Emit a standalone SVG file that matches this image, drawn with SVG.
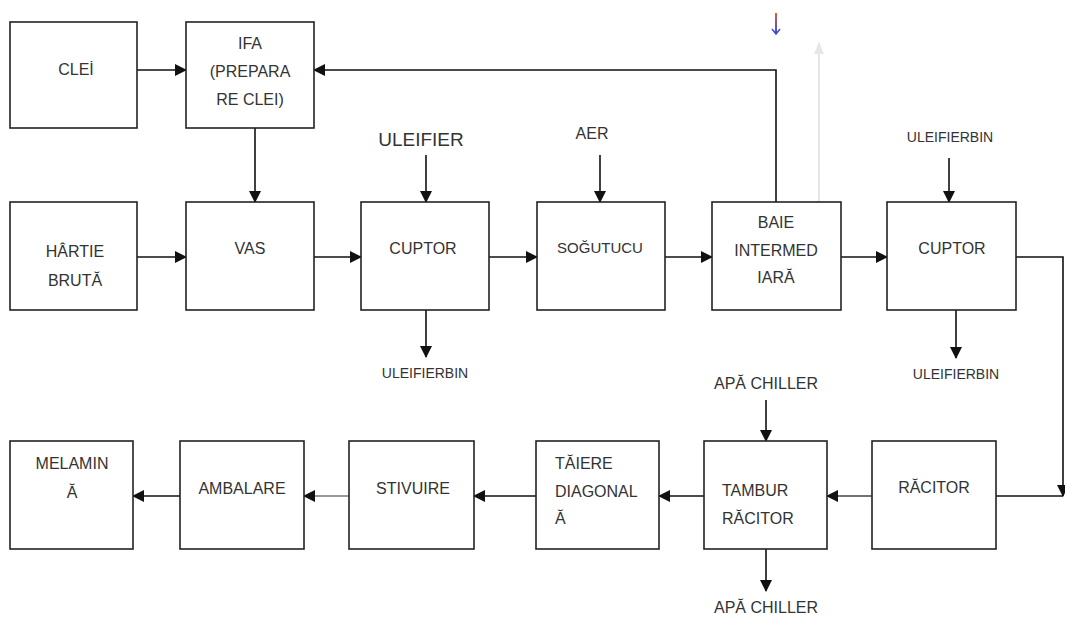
<svg xmlns="http://www.w3.org/2000/svg" width="1065" height="620" viewBox="0 0 1065 620">
<defs>
<style>
.box{fill:#fff;stroke:#222;stroke-width:1.6}
.t{font-family:"Liberation Sans",Arial,sans-serif;font-size:16px;fill:#333;text-anchor:middle}
.tl{font-family:"Liberation Sans",Arial,sans-serif;font-size:16px;fill:#333;text-anchor:start}
.s{font-family:"Liberation Sans",Arial,sans-serif;font-size:14px;fill:#333;text-anchor:middle}
.c{fill:none;stroke:#111;stroke-width:1.6}
</style>
<marker id="ah" markerUnits="userSpaceOnUse" markerWidth="12" markerHeight="12" viewBox="0 0 12 12" refX="11" refY="6" orient="auto"><path d="M0,0 L12,6 L0,12 Z" fill="#111"/></marker>
<marker id="ahg" markerUnits="userSpaceOnUse" markerWidth="12" markerHeight="12" viewBox="0 0 12 12" refX="11" refY="6" orient="auto"><path d="M0,1 L12,6 L0,11 Z" fill="#e6e6e6"/></marker>
<linearGradient id="rb" gradientUnits="userSpaceOnUse" x1="776" y1="13" x2="776" y2="34"><stop offset="0" stop-color="#e05a3a"/><stop offset="1" stop-color="#3a4ad0"/></linearGradient>
</defs>

<g id="connectors">
<line class="c" x1="137" y1="70" x2="186" y2="70" marker-end="url(#ah)"/>
<polyline class="c" points="776,202 776,70 314,70" marker-end="url(#ah)"/>
<line class="c" x1="255" y1="128" x2="255" y2="202" marker-end="url(#ah)"/>
<line class="c" x1="137" y1="257" x2="186" y2="257" marker-end="url(#ah)"/>
<line class="c" x1="314" y1="257" x2="361" y2="257" marker-end="url(#ah)"/>
<line class="c" x1="489" y1="257" x2="537" y2="257" marker-end="url(#ah)"/>
<line class="c" x1="665" y1="257" x2="712" y2="257" marker-end="url(#ah)"/>
<line class="c" x1="841" y1="257" x2="887" y2="257" marker-end="url(#ah)"/>
<line class="c" x1="426" y1="155" x2="426" y2="202" marker-end="url(#ah)"/>
<line class="c" x1="600" y1="155" x2="600" y2="202" marker-end="url(#ah)"/>
<line class="c" x1="949" y1="158" x2="949" y2="202" marker-end="url(#ah)"/>
<line class="c" x1="426" y1="310" x2="426" y2="357" marker-end="url(#ah)"/>
<line class="c" x1="956" y1="310" x2="956" y2="358" marker-end="url(#ah)"/>
<polyline class="c" points="1016,257 1063,257 1063,496" marker-end="url(#ah)"/>
<line class="c" x1="996" y1="496" x2="1063" y2="496"/>
<line class="c" x1="872" y1="496" x2="827" y2="496" style="stroke:#444" marker-end="url(#ah)"/>
<line class="c" x1="704" y1="496" x2="659" y2="496" marker-end="url(#ah)"/>
<line class="c" x1="536" y1="496" x2="474" y2="496" marker-end="url(#ah)"/>
<line class="c" x1="349" y1="496" x2="304" y2="496" style="stroke:#777" marker-end="url(#ah)"/>
<line class="c" x1="180" y1="496" x2="133" y2="496" marker-end="url(#ah)"/>
<line class="c" x1="766" y1="400" x2="766" y2="441" marker-end="url(#ah)"/>
<line class="c" x1="766" y1="549" x2="766" y2="591" marker-end="url(#ah)"/>
<line x1="819" y1="202" x2="819" y2="43" stroke="#e6e6e6" stroke-width="2" marker-end="url(#ahg)"/>
</g>

<g id="icon">
<rect x="775" y="13" width="2" height="20" fill="url(#rb)"/>
<polyline points="772,29 776,34 780,29" fill="none" stroke="#3a4ad0" stroke-width="1.5"/>
</g>

<g id="n-clei"><rect class="box" x="10" y="22" width="127" height="106"/><text class="t" x="76" y="75">CLEİ</text></g>
<g id="n-ifa"><rect class="box" x="186" y="22" width="128" height="106"/><text class="t" x="250" y="49">IFA</text><text class="t" x="250" y="77">(PREPARA</text><text class="t" x="250" y="105">RE CLEI)</text></g>
<g id="n-hartie"><rect class="box" x="10" y="202" width="127" height="108"/><text class="t" x="75" y="257">HÂRTIE</text><text class="t" x="75" y="286">BRUTĂ</text></g>
<g id="n-vas"><rect class="box" x="186" y="202" width="128" height="108"/><text class="t" x="250" y="254">VAS</text></g>
<g id="n-cuptor1"><rect class="box" x="361" y="202" width="128" height="108"/><text class="t" x="423" y="254">CUPTOR</text></g>
<g id="n-sogutucu"><rect class="box" x="537" y="202" width="128" height="108"/><text class="t" x="600" y="253" style="font-size:15px">SOĞUTUCU</text></g>
<g id="n-baie"><rect class="box" x="712" y="202" width="129" height="108"/><text class="t" x="776" y="228">BAIE</text><text class="t" x="776" y="256">INTERMED</text><text class="t" x="776" y="283">IARĂ</text></g>
<g id="n-cuptor2"><rect class="box" x="887" y="202" width="129" height="108"/><text class="t" x="952" y="254">CUPTOR</text></g>

<g id="n-melamina"><rect class="box" x="10" y="441" width="123" height="108"/><text class="t" x="72" y="469">MELAMIN</text><text class="t" x="72" y="498">Ă</text></g>
<g id="n-ambalare"><rect class="box" x="180" y="441" width="124" height="108"/><text class="t" x="242" y="494">AMBALARE</text></g>
<g id="n-stivuire"><rect class="box" x="349" y="441" width="125" height="108"/><text class="t" x="413" y="494">STIVUIRE</text></g>
<g id="n-taiere"><rect class="box" x="536" y="441" width="123" height="108"/><text class="tl" x="555" y="469">TĂIERE</text><text class="tl" x="555" y="497">DIAGONAL</text><text class="tl" x="555" y="524">Ă</text></g>
<g id="n-tambur"><rect class="box" x="704" y="441" width="123" height="108"/><text class="tl" x="722" y="496">TAMBUR</text><text class="tl" x="722" y="524">RĂCITOR</text></g>
<g id="n-racitor"><rect class="box" x="872" y="441" width="124" height="108"/><text class="t" x="934" y="493">RĂCITOR</text></g>

<g id="labels">
<text class="t" x="421" y="146" style="font-size:19px">ULEIFIER</text>
<text class="t" x="592" y="139">AER</text>
<text class="s" x="950" y="142">ULEIFIERBIN</text>
<text class="s" x="425" y="378">ULEIFIERBIN</text>
<text class="s" x="956" y="379">ULEIFIERBIN</text>
<text class="t" x="766" y="389">APĂ CHILLER</text>
<text class="t" x="766" y="613">APĂ CHILLER</text>
</g>
</svg>
